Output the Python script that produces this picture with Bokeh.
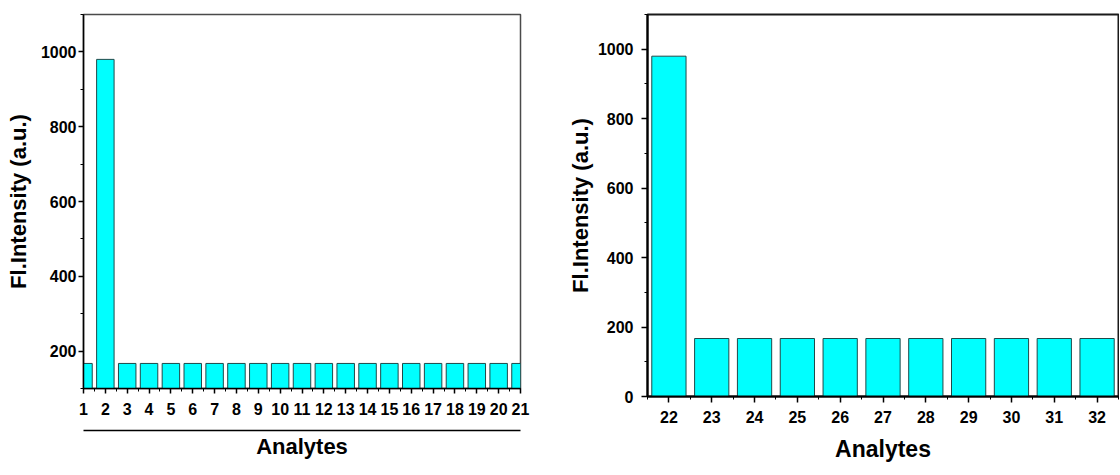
from bokeh.plotting import figure
from bokeh.models import Range1d, LinearAxis, SingleIntervalTicker, FixedTicker
from bokeh.layouts import row
from bokeh.embed import file_html
from bokeh.resources import INLINE

# ---- data ----
left_ids = list(range(1, 22))
left_vals = [167, 980, 167, 167, 167, 167, 167, 167, 167, 167, 167,
             167, 167, 167, 167, 167, 167, 167, 167, 167, 167]
right_ids = list(range(22, 33))
right_vals = [980, 167, 167, 167, 167, 167, 167, 167, 167, 167, 167]
x_title = "Analytes"
y_title = "Fl.Intensity (a.u.)"

FONT = "Liberation Sans"
BAR_FILL = "#00FFFF"
BAR_LINE = "#1f4a4a"


def style_axis(ax, tick_size, label_size, tick_out, standoff, lw=1.5):
    ax.axis_line_color = "black"
    ax.axis_line_width = lw
    ax.major_tick_line_color = "black"
    ax.major_tick_line_width = 1.5
    ax.minor_tick_line_color = "black"
    ax.minor_tick_line_width = 1
    ax.major_tick_in = 0
    ax.major_tick_out = tick_out
    ax.minor_tick_in = 0
    ax.minor_tick_out = 3
    ax.major_label_text_font = FONT
    ax.major_label_text_font_style = "bold"
    ax.major_label_text_font_size = tick_size
    ax.major_label_text_color = "black"
    ax.major_label_standoff = standoff
    ax.axis_label_text_font = FONT
    ax.axis_label_text_font_style = "bold"
    ax.axis_label_text_font_size = label_size
    ax.axis_label_text_color = "black"


# ---- left panel ----
p1 = figure(width=560, height=473, output_backend="svg", toolbar_location=None,
            x_range=Range1d(1, 21), y_range=Range1d(100, 1100),
            min_border_left=83, min_border_right=40, min_border_top=14,
            min_border_bottom=85)
p1.vbar(x=left_ids, top=left_vals, bottom=0, width=0.8,
        fill_color=BAR_FILL, line_color=BAR_LINE, line_width=1)
p1.xgrid.visible = False
p1.ygrid.visible = False
p1.outline_line_color = "#4a4a4a"
p1.outline_line_width = 1.5
p1.background_fill_color = "white"
p1.border_fill_color = "white"

p1.xaxis.ticker = SingleIntervalTicker(interval=1, num_minor_ticks=2)
p1.yaxis.ticker = SingleIntervalTicker(interval=200, num_minor_ticks=2)
style_axis(p1.xaxis[0], "16px", "9px", 5, 9)
p1.xaxis[0].axis_label = "\u00a0"
p1.xaxis[0].axis_label_standoff = 0
style_axis(p1.yaxis[0], "16px", "22px", 5, 2)
p1.yaxis[0].axis_label = y_title
p1.yaxis[0].axis_label_standoff = 7

extra = LinearAxis(ticker=FixedTicker(ticks=[]))
style_axis(extra, "1px", "22px", 0, 0)
extra.minor_tick_out = 0
extra.axis_label = x_title
extra.axis_label_standoff = 3
p1.add_layout(extra, "below")

# ---- right panel ----
p2 = figure(width=559, height=473, output_backend="svg", toolbar_location=None,
            x_range=Range1d(21.5, 32.5), y_range=Range1d(0, 1100),
            min_border_left=87, min_border_right=1, min_border_top=14,
            min_border_bottom=77)
p2.vbar(x=right_ids, top=right_vals, bottom=0, width=0.8,
        fill_color=BAR_FILL, line_color=BAR_LINE, line_width=1)
p2.xgrid.visible = False
p2.ygrid.visible = False
p2.outline_line_color = "#1a1a1a"
p2.outline_line_width = 2
p2.background_fill_color = "white"
p2.border_fill_color = "white"

p2.xaxis.ticker = SingleIntervalTicker(interval=1, num_minor_ticks=2)
p2.yaxis.ticker = SingleIntervalTicker(interval=200, num_minor_ticks=2)
style_axis(p2.xaxis[0], "16px", "23px", 6, 8, lw=2)
p2.xaxis[0].axis_label = x_title
p2.xaxis[0].axis_label_standoff = 10
style_axis(p2.yaxis[0], "16px", "22px", 6, 8, lw=2)
p2.yaxis[0].axis_label = y_title
p2.yaxis[0].axis_label_standoff = 2

html = None
try:
    from bokeh.core.templates import get_env
    tmpl = get_env().from_string(
        '{% extends "file.html" %}'
        '{% block contents %}<div style="display:flex;flex-direction:row;align-items:flex-start;">'
        '{{ super() }}</div>{% endblock %}'
    )
    html = file_html([p1, p2], INLINE, template=tmpl)
except Exception:
    html = file_html(row(p1, p2), INLINE)

open("out.html", "w").write(html)
